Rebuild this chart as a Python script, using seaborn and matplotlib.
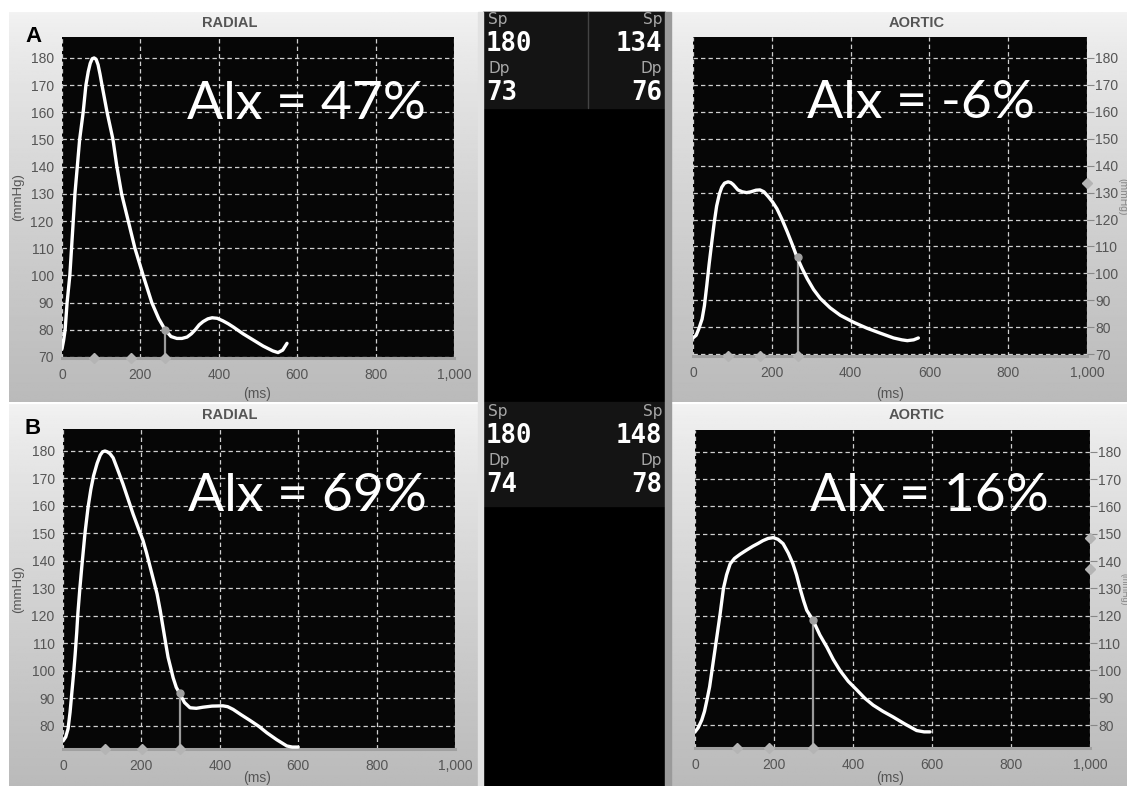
import numpy as np
import matplotlib
matplotlib.use("Agg")
import matplotlib.pyplot as plt
import seaborn as sns

# --- data --------------------------------------------------------------
radial_a_t = [0, 4, 8, 13, 20, 33, 45, 54, 61, 67, 72, 77, 82, 87, 92, 97, 102, 115, 130, 140,
              152, 169, 186, 207, 229, 247, 263, 278, 293, 306, 319, 330, 340, 350, 360, 372,
              383, 396, 410, 424, 437, 462, 487, 513, 538, 551, 563, 574]
radial_a_p = [73, 76, 80, 90, 100, 130, 150, 160, 170, 175, 178, 179.7, 180, 179.5, 177.5, 174,
              170, 160, 150, 140, 130, 120, 110, 100, 90, 84, 80, 77.5, 76.8, 76.8, 77.3, 78.5,
              80, 81.8, 83, 84, 84.4, 84.2, 83.3, 82.2, 81, 78.5, 76.3, 74, 72.2, 71.6, 72.5, 75]

aortic_a_t = [0, 8, 15, 23, 29, 35, 41, 48, 54, 60, 67, 73, 80, 89, 96, 102, 114, 125, 136, 147,
              160, 170, 180, 191, 202, 213, 226, 239, 252, 264, 277, 290, 306, 323, 348, 374,
              408, 442, 475, 509, 530, 544, 560, 572]
aortic_a_p = [76, 77, 79.5, 83, 88, 95.5, 103.5, 112, 119, 125, 129.5, 132, 133.5, 134, 133.7,
              133, 131, 130.3, 130, 130.3, 130.9, 131, 130.3, 128.5, 126.5, 124, 120, 115.5,
              110.7, 106, 101.8, 98, 94, 90.7, 87.2, 84.4, 81.8, 79.6, 77.8, 76, 75.3, 75,
              75.3, 76]

radial_b_t = [0, 7, 13, 18, 23, 27, 31, 35, 38, 43, 48, 56, 64, 71, 78, 87, 95, 101, 107, 113,
              120, 128, 140, 153, 166, 179, 192, 204, 213, 222, 231, 240, 248, 255, 262, 268,
              275, 281, 289, 298, 310, 324, 340, 357, 380, 408, 420, 434, 455, 477, 500, 520,
              545, 571, 585, 600]
radial_b_p = [74.5, 76, 79, 85, 92.8, 99, 106, 114, 121, 130, 138, 150, 159.6, 166, 171, 175.5,
              178.5, 179.7, 180, 179.7, 179, 177.5, 173, 168, 162.5, 157, 152, 147.5, 143, 138,
              133, 128, 122, 116, 110, 105, 101, 97.5, 94, 91.7, 88.5, 86.6, 86.4, 86.8, 87.2,
              87.3, 87, 86, 84, 82, 79.8, 77.5, 75, 72.7, 72.3, 72.3]

aortic_b_t = [0, 8, 17, 24, 30, 37, 43, 53, 63, 72, 80, 89, 100, 114, 130, 147, 160, 172, 185,
              198, 210, 223, 236, 248, 257, 266, 275, 283, 299, 316, 334, 350, 367, 388, 410,
              430, 451, 476, 501, 530, 561, 580, 595]
aortic_b_p = [77.5, 79, 81.8, 85, 89, 94, 100, 110, 120, 130, 135, 139, 141, 142.5, 144, 145.5,
              146.5, 147.5, 148.3, 148.6, 148, 146.4, 143, 139, 135, 130, 125.5, 122, 118.3, 113,
              108.5, 104, 100, 96, 92.8, 89.8, 87.3, 85, 83, 80.5, 78, 77.5, 77.5]

# foot / peak markers on the time axis and the reflection point
radial_a_marks = [82, 176, 263]
aortic_a_marks = [89, 170, 267]
radial_b_marks = [107, 201, 298]
aortic_b_marks = [106, 187, 299]
radial_a_infl = (263, 80)
aortic_a_infl = (267, 106)
radial_b_infl = (298, 92)
aortic_b_infl = (299, 118.5)
aortic_a_side = [133.5]
aortic_b_side = [148.6, 137.3]

aix_labels = ["Alx = 47%", "Alx = -6%", "Alx = 69%", "Alx = 16%"]
sp_a = ["180", "134"]
dp_a = ["73", "76"]
sp_b = ["180", "148"]
dp_b = ["74", "78"]

x_ticks = [0, 200, 400, 600, 800, 1000]
x_tick_labels = ["0", "200", "400", "600", "800", "1,000"]
y_ticks_a = list(range(70, 190, 10))
y_ticks_b = list(range(80, 190, 10))

# --- figure --------------------------------------------------------------
W, H = 1127, 786
sns.set_theme(style="dark")
plt.rcParams["font.family"] = ["Liberation Sans", "DejaVu Sans"]
fig = plt.figure(figsize=(W / 100, H / 100), dpi=100, facecolor="white")

bg = fig.add_axes([0, 0, 1, 1])
bg.set_facecolor("white")
grad = np.linspace(0, 1, 200)[:, None]
grad_cols = np.clip(0.95 - 0.22 * grad ** 0.8, 0, 1)
for (x0, y0, x1, y1) in [(9, 12, 483, 402), (672, 12, 1127, 402),
                         (9, 404, 483, 786), (672, 404, 1127, 786)]:
    bg.imshow(np.repeat(grad_cols, 2, axis=1), cmap="gray", vmin=0, vmax=1,
              extent=(x0, x1, y1, y0), aspect="auto", zorder=0)
# middle monitor strip
bg.add_patch(plt.Rectangle((483, 12), 182, 774, color="black", zorder=1))
bg.add_patch(plt.Rectangle((483, 12), 182, 96, color="#141414", zorder=1))
bg.add_patch(plt.Rectangle((483, 402), 182, 104, color="#141414", zorder=1))
bg.add_patch(plt.Rectangle((665, 12), 6, 774, color="#9a9a9a", zorder=1))
bg.add_patch(plt.Rectangle((478, 12), 5, 774, color="#e2e2e2", zorder=1))
bg.plot([588, 588], [12, 108], color="#444444", lw=1, zorder=2)
bg.set_xlim(0, W)
bg.set_ylim(H, 0)
bg.axis("off")

for dy, sp, dp in [(0, sp_a, dp_a), (392, sp_b, dp_b)]:
    for x, ha, k in [(488, "left", 0), (662, "right", 1)]:
        bg.text(x, 12 + dy, "Sp", ha=ha, va="top", color="#a8a8a8", fontsize=11,
                family="DejaVu Sans", zorder=3)
        bg.text(x - 2 if ha == "left" else x, 31 + dy, sp[k], ha=ha, va="top", color="white",
                fontsize=18.5, family="DejaVu Sans Mono", fontweight="bold", zorder=3)
        bg.text(x, 61 + dy, "Dp", ha=ha, va="top", color="#a8a8a8", fontsize=11,
                family="DejaVu Sans", zorder=3)
        bg.text(x - 2 if ha == "left" else x, 80 + dy, dp[k], ha=ha, va="top", color="white",
                fontsize=18.5, family="DejaVu Sans Mono", fontweight="bold", zorder=3)

# titles, panel letters, axis labels
for dy, ms_y, mm_x, mm_fs in [(0, 394, 1122, 7.5), (392, 778, 1124, 6.5)]:
    bg.text(230, 23 + dy, "RADIAL", ha="center", va="center", color="#555555",
            fontsize=10.5, fontweight="bold", zorder=3)
    bg.text(917, 23 + dy, "AORTIC", ha="center", va="center", color="#555555",
            fontsize=10.5, fontweight="bold", zorder=3)
    bg.text(257, ms_y, "(ms)", ha="center", va="center", color="#555555", fontsize=10,
            zorder=3)
    bg.text(890, ms_y, "(ms)", ha="center", va="center", color="#555555", fontsize=10,
            zorder=3)
    bg.text(18, 197 + dy, "(mmHg)", ha="center", va="center", rotation=90, color="#555555",
            fontsize=9.5, zorder=3)
    bg.text(mm_x, 197 + dy, "(mmHg)", ha="center", va="center", rotation=270,
            color="#888888", fontsize=mm_fs, zorder=3)
bg.text(25, 36, "A", ha="left", va="center", color="black", fontsize=16, fontweight="bold",
        zorder=3)
bg.text(25, 428, "B", ha="left", va="center", color="black", fontsize=16, fontweight="bold",
        zorder=3)


def px_axes(l, t, r, b):
    return fig.add_axes([l / W, 1 - b / H, (r - l) / W, (b - t) / H])


panels = [
    dict(box=(62, 37, 454, 358), ylim=(69.6, 187.7), t=radial_a_t, p=radial_a_p,
         marks=radial_a_marks, infl=radial_a_infl, side=[], right=False, yt=y_ticks_a,
         txt=aix_labels[0]),
    dict(box=(693, 37, 1087, 356), ylim=(69.3, 187.8), t=aortic_a_t, p=aortic_a_p,
         marks=aortic_a_marks, infl=aortic_a_infl, side=aortic_a_side, right=True,
         yt=y_ticks_a, txt=aix_labels[1]),
    dict(box=(63, 429, 455, 749), ylim=(71.6, 188), t=radial_b_t, p=radial_b_p,
         marks=radial_b_marks, infl=radial_b_infl, side=[], right=False, yt=y_ticks_b,
         txt=aix_labels[2]),
    dict(box=(695, 430, 1090, 748), ylim=(71.6, 188), t=aortic_b_t, p=aortic_b_p,
         marks=aortic_b_marks, infl=aortic_b_infl, side=aortic_b_side, right=True,
         yt=y_ticks_b, txt=aix_labels[3]),
]

for pn in panels:
    ax = px_axes(*pn["box"])
    ax.set_facecolor("#060606")
    ax.set_xlim(0, 1000)
    ax.set_ylim(*pn["ylim"])
    ax.set_xticks(x_ticks)
    ax.set_xticklabels(x_tick_labels)
    ax.set_yticks(pn["yt"])
    ax.grid(True, color="#cfcfcf", ls=(0, (3.5, 2.5)), lw=0.9)
    for s in ["left", "top", "right"]:
        ax.spines[s].set_visible(False)
    ax.spines["bottom"].set_color("#a0a0a0")
    ax.spines["bottom"].set_linewidth(2.2)
    ax.tick_params(axis="x", length=0, pad=7, labelsize=10, labelcolor="#555555")
    ax.tick_params(axis="y", length=5, width=0.8, color="#888888", pad=1, labelsize=10,
                   labelcolor="#555555")
    if pn["right"]:
        ax.yaxis.tick_right()

    ti, pi = pn["infl"]
    ax.plot([ti, ti], [pn["ylim"][0], pi], color="#9a9a9a", lw=1.6, zorder=2)
    sns.lineplot(x=pn["t"], y=pn["p"], ax=ax, color="white", lw=2.4, zorder=3)
    ax.plot([ti], [pi], "o", color="#a0a0a0", ms=5, zorder=4)
    ax.plot(pn["marks"], [pn["ylim"][0]] * len(pn["marks"]), "D", color="#b4b4b4", ms=5,
            clip_on=False, zorder=5)
    if pn["side"]:
        ax.plot([1000] * len(pn["side"]), pn["side"], "D", color="#b4b4b4", ms=5,
                clip_on=False, zorder=5)
    ax.set_xlabel("")
    ax.set_ylabel("")
    ax.text(0.29 if pn["right"] else 0.32, 0.79, pn["txt"], transform=ax.transAxes,
            ha="left", va="center", color="white", fontsize=38.5,
            family=["Lato", "DejaVu Sans"], fontweight="normal", zorder=6)

fig.savefig("out.png", dpi=100, facecolor="white")
